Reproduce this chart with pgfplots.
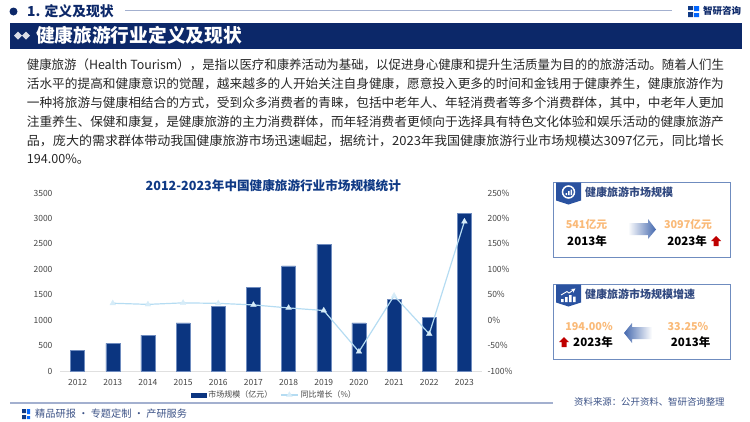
\documentclass[border=0pt]{standalone}
\usepackage{fontspec}
\usepackage{graphicx}
\usepackage{pgfplots}
\pgfplotsset{compat=1.18}
\setmainfont{Noto Sans CJK SC}

\definecolor{navy}{HTML}{0C2869}
\definecolor{barblue}{HTML}{0B3580}
\definecolor{titleblue}{HTML}{103A85}
\definecolor{ruleblue}{HTML}{A3B0CF}
\definecolor{boxblue}{HTML}{6F8CBF}
\definecolor{badge}{HTML}{2A52A0}
\definecolor{arrowblue}{HTML}{4468AE}
\definecolor{lineblue}{HTML}{B5DCF2}
\definecolor{orange}{HTML}{FABA78}
\definecolor{tick}{HTML}{444444}

\pgfplotstableread{
x year size
0 2012 400
1 2013 541
2 2014 705
3 2015 945
4 2016 1270
5 2017 1650
6 2018 2065
7 2019 2495
8 2020 945
9 2021 1410
10 2022 1053
11 2023 3097
}\sizetable

\pgfplotstableread{
x rate
1 33.25
2 31
3 34
4 33
5 30
6 24
7 19
8 -62
9 48
10 -27
11 194
}\ratetable

\newcommand{\bodyline}[1]{\resizebox{697pt}{\height}{#1}}

\begin{document}
\begin{tikzpicture}[x=1pt,y=-1pt]
\useasboundingbox (0,0) rectangle (750,421);

% header
\fill[navy] (13.5,11.5) circle (4);
\node[anchor=west,inner sep=0,text=navy,font=\fontsize{13.8}{15}\selectfont\bfseries] at (27,11.5) {1. 定义及现状};
\draw[ruleblue,line width=1.2pt] (125,10.5) -- (672,10.5);
\fill[titleblue] (688,6) rectangle (693,10) (688,12) rectangle (693,17);
\fill[blue!60!cyan] (694,6) rectangle (699,11) (694,13) rectangle (699,17);
\node[anchor=west,inner sep=0,text=navy,font=\fontsize{9.5}{11}\selectfont\bfseries] at (703,10.5) {智研咨询};
\fill[navy] (10,23) rectangle (742,49);
\foreach \dx in {0,8}{\fill[white,opacity=.85] (14+\dx,35.5) -- (18+\dx,31.5) -- (22+\dx,35.5) -- (18+\dx,39.5) -- cycle;}
\node[anchor=west,inner sep=0,text=white,font=\fontsize{18.7}{20}\selectfont\bfseries] at (36,35.5) {健康旅游行业定义及现状};

% body text
\foreach \yy/\tt in {
65/健康旅游（Health Tourism），是指以医疗和康养活动为基础，以促进身心健康和提升生活质量为目的的旅游活动。随着人们生,
84/活水平的提高和健康意识的觉醒，越来越多的人开始关注自身健康，愿意投入更多的时间和金钱用于健康养生，健康旅游作为,
103/一种将旅游与健康相结合的方式，受到众多消费者的青睐，包括中老年人、年轻消费者等多个消费群体，其中，中老年人更加,
122/注重养生、保健和康复，是健康旅游的主力消费群体，而年轻消费者更倾向于选择具有特色文化体验和娱乐活动的健康旅游产,
141/品，庞大的需求群体带动我国健康旅游市场迅速崛起，据统计，2023年我国健康旅游行业市场规模达3097亿元，同比增长}{
\node[anchor=west,inner sep=0,text=black!85,font=\fontsize{12.6}{14}\selectfont] at (26.7,\yy) {\bodyline{\tt}};
}
\node[anchor=west,inner sep=0,text=black!85,font=\fontsize{12.6}{14}\selectfont] at (26.7,159.5) {194.00\%。};

% chart title
\node[anchor=west,inner sep=0,text=titleblue,font=\fontsize{12.6}{14}\selectfont\bfseries] at (145.5,185.5) {2012-2023年中国健康旅游行业市场规模统计};

% bars, left axis
\begin{axis}[
  at={(60pt,-371pt)}, anchor=south west,
  scale only axis, width=422pt, height=178pt,
  xmin=-0.5, xmax=11.5, ymin=0, ymax=3500,
  axis y line*=left, axis x line*=bottom,
  y axis line style={draw=none},
  x axis line style={draw=black!12,-},
  xtick=data, xticklabels={2012,2013,2014,2015,2016,2017,2018,2019,2020,2021,2022,2023},
  ytick={0,500,1000,1500,2000,2500,3000,3500},
  yticklabels={0,500,1000,1500,2000,2500,3000,3500},
  major tick length=0pt,
  tick label style={font=\fontsize{8.5}{10}\selectfont,text=tick},
  xticklabel style={yshift=-5pt},
  yticklabel style={xshift=-4pt},
]
\addplot[ybar,bar width=14pt,fill=barblue,draw=boxblue,line width=.4pt] table[x=x,y=size] {\sizetable};
\end{axis}

% growth rate, right axis
\begin{axis}[
  at={(60pt,-371pt)}, anchor=south west,
  scale only axis, width=422pt, height=178pt,
  xmin=-0.5, xmax=11.5, ymin=-100, ymax=250,
  axis y line*=right, axis x line=none,
  y axis line style={draw=none},
  ytick={-100,-50,0,50,100,150,200,250},
  yticklabels={-100\%,-50\%,0\%,50\%,100\%,150\%,200\%,250\%},
  yticklabel style={anchor=west,xshift=2pt},
  major tick length=0pt,
  tick label style={font=\fontsize{8.5}{10}\selectfont,text=tick},
  legend style={at={(0.508,-0.135)},anchor=center,draw=none,fill=none,
    legend columns=2,font=\fontsize{8}{10}\selectfont,text=tick,
    /tikz/every even column/.append style={column sep=6pt}},
  legend cell align=left,
]
\addlegendimage{legend image code/.code={\fill[barblue] (0pt,-2pt) rectangle (15pt,2pt);}}
\addlegendentry{市场规模（亿元）}
\addplot[lineblue,line width=1.2pt,mark=triangle*,mark size=3.4pt,mark options={fill=lineblue!55!white,draw=lineblue!55!white,line width=.2pt}] table[x=x,y=rate] {\ratetable};
\addlegendentry{同比增长（\%）}
\end{axis}

% side panels
\foreach \top/\bot/\ttl in {182.5/257.5/健康旅游市场规模,284.5/359.5/健康旅游市场规模增速}{
  \draw[boxblue,line width=.8pt,fill=white] (553,\top) rectangle (730,\bot);
  \fill[badge] (556,\top) -- (581,\top) -- (581,\top+18) -- (568.5,\top+22) -- (556,\top+18) -- cycle;
  \node[anchor=west,inner sep=0,text=navy!85,font=\fontsize{11}{13}\selectfont\bfseries] at (585,\top+10) {\ttl};
}
% badge icons
\draw[white,line width=1.5pt] (568.5,192) circle (6);
\fill[white] (565.5,193) rectangle (567,195) (568,191) rectangle (569.5,195) (570.5,189.5) rectangle (572,195);
\fill[white] (561,299) rectangle (563.5,302) (565,297) rectangle (567.5,302) (569,295) rectangle (571.5,302) (573,296.5) rectangle (575.5,302);
\draw[white,line width=.9pt,-stealth] (561,295) -- (567,291.5) -- (569,293) -- (575.5,288.5);

\shade[left color=white,right color=arrowblue] (628,223) -- (648,223) -- (648,219) -- (656,229.5) -- (648,239) -- (648,235) -- (628,235) -- cycle;
\shade[left color=arrowblue,right color=white] (652,327) -- (632,327) -- (632,323) -- (624,333) -- (632,343) -- (632,339) -- (652,339) -- cycle;

\foreach \xx/\yy/\tt in {586.5/224/541亿元,688/224/3097亿元,589/326/194.00\%,688/326/33.25\%}{
  \node[inner sep=0,text=orange,font=\fontsize{10.8}{13}\selectfont\bfseries] at (\xx,\yy) {\tt};
}
\foreach \xx/\yy/\tt in {587/241/2013年,687/241/2023年,593/342/2023年,690.5/342/2013年}{
  \node[inner sep=0,text=black,font=\fontsize{11.5}{13}\selectfont\bfseries] at (\xx,\yy) {\tt};
}
\foreach \xx/\yy in {716/241,564/342}{
  \fill[red!75!black] (\xx-5,\yy) -- (\xx,\yy-5) -- (\xx+5,\yy) -- (\xx+2.5,\yy) -- (\xx+2.5,\yy+5) -- (\xx-2.5,\yy+5) -- (\xx-2.5,\yy) -- cycle;
}

% footer
\draw[ruleblue,line width=1.2pt] (10,403) -- (552.5,403);
\fill[titleblue] (22,409) rectangle (26,413) (22,415) rectangle (26,419);
\fill[blue!60!cyan] (27,409) rectangle (30,414) (27,416) rectangle (30,419);
\node[anchor=west,inner sep=0,text=navy!80,font=\fontsize{10.2}{12}\selectfont] at (35,414) {精品研报 · 专题定制 · 产研服务};
\node[anchor=west,inner sep=0,text=navy!80,font=\fontsize{9.4}{12}\selectfont] at (574,402) {资料来源：公开资料、智研咨询整理};
\end{tikzpicture}
\end{document}
